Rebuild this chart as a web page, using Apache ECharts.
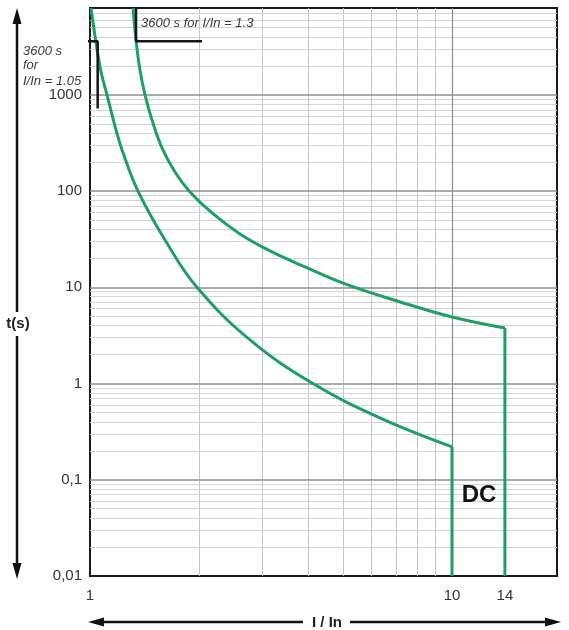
<!DOCTYPE html>
<html><head><meta charset="utf-8">
<script src="https://cdn.jsdelivr.net/npm/echarts@6/dist/echarts.min.js"></script>
<style>html,body{margin:0;padding:0;background:#fff}#c{width:569px;height:630px}</style>
</head><body><div id="c"></div>
<script>
// ---- data ----
const xTickValues = [1, 10, 14];
const xTickLabels = ['1', '10', '14'];
const yTickValues = [0.01, 0.1, 1, 10, 100, 1000];
const yTickLabels = ['0,01', '0,1', '1', '10', '100', '1000'];

// tripping curve starting at I/In = 1.05 region (I/In, t in s)
const curveLowI = [1.007, 1.066, 1.114, 1.18, 1.226, 1.357, 1.612, 1.975, 2.767, 4.13, 6.32, 10];
const curveLowT = [8000, 1950, 1000, 433, 268, 100, 31, 10, 2.84, 1, 0.44, 0.22];
// tripping curve starting at I/In = 1.3
const curveHighI = [1.315, 1.34, 1.374, 1.419, 1.483, 1.581, 1.717, 1.889, 2.173, 2.596, 3.143, 3.926, 5.064, 7.19, 10, 14];
const curveHighT = [8000, 3730, 1820, 1000, 550, 281, 158, 98, 59.3, 35.9, 23.9, 16.3, 10.85, 7.05, 4.92, 3.78];
// instantaneous drop
const dropLowI = [10, 10];
const dropLowT = [0.22, 0.01];
const dropHighI = [14, 14];
const dropHighT = [3.78, 0.01];
// 3600 s annotations
const ann105I = [0.66, 1.05, 1.05];
const ann105T = [3600, 3600, 720];
const ann13I = [1.34, 1.34, 2.04];
const ann13T = [8000, 3600, 3600];

// grid line values
const xMinorGrid = [2, 3, 4, 5, 6, 7, 8, 9];
const xMajorGrid = [10];
const yMajorGrid = [0.1, 1, 10, 100, 1000];
const yMinorMult = [2, 3, 4, 5, 6, 7, 8, 9];
const yDecades = [0.01, 0.1, 1, 10, 100, 1000];

const pairs = (a, b) => a.map((v, i) => [v, b[i]]);
const FONT = '"Liberation Sans", Arial, sans-serif';
const GREEN = '#1f9e66';

const gridLines = [];
xMinorGrid.forEach(v => gridLines.push({xAxis: v, lineStyle: {color: '#c4c4c4', width: 1, type: 'solid'}}));
yDecades.forEach(d => yMinorMult.forEach(m => {
  const v = d * m;
  if (v < 8000) gridLines.push({yAxis: v, lineStyle: {color: '#d4d4d4', width: 1, type: 'solid'}});
}));
xMajorGrid.forEach(v => gridLines.push({xAxis: v, lineStyle: {color: '#8c8c8c', width: 1.2, type: 'solid'}}));
yMajorGrid.forEach(v => gridLines.push({yAxis: v, lineStyle: {color: '#8f8f8f', width: 1.5, type: 'solid'}}));

const labelFor = (vals, labs, v) => {
  const i = vals.findIndex(t => Math.abs(Math.log10(t) - Math.log10(v)) < 1e-6);
  return i >= 0 ? labs[i] : '';
};

const chart = echarts.init(document.getElementById('c'), null, {renderer: 'canvas'});
chart.setOption({
  animation: false,
  grid: {left: 90, right: 12, top: 8, bottom: 54, show: true, borderColor: '#1a1a1a', borderWidth: 2, backgroundColor: 'transparent'},
  xAxis: {
    type: 'log', logBase: 10, min: 1, max: 19.5,
    axisLine: {show: false}, axisTick: {show: false}, splitLine: {show: false},
    axisLabel: {showMaxLabel: false, margin: 12, color: '#333', fontSize: 15, fontFamily: FONT,
      formatter: v => labelFor(xTickValues, xTickLabels, v)}
  },
  yAxis: {
    type: 'log', logBase: 10, min: 0.01, max: 8000,
    axisLine: {show: false}, axisTick: {show: false}, splitLine: {show: false},
    axisLabel: {showMaxLabel: false, margin: 8, color: '#333', fontSize: 15, fontFamily: FONT,
      formatter: v => labelFor(yTickValues, yTickLabels, v)}
  },
  series: [
    {type: 'line', name: 'grid', data: [], z: 1, silent: true,
     markLine: {silent: true, z: 1, symbol: ['none', 'none'], label: {show: false}, animation: false,
       lineStyle: {type: 'solid'}, data: gridLines}},
    {type: 'line', data: pairs(curveLowI, curveLowT), smooth: 0.4, showSymbol: false, z: 3,
     lineStyle: {color: GREEN, width: 3}},
    {type: 'line', data: pairs(curveHighI, curveHighT), smooth: 0.4, showSymbol: false, z: 3,
     lineStyle: {color: GREEN, width: 3}},
    {type: 'line', data: pairs(dropLowI, dropLowT), showSymbol: false, z: 3, lineStyle: {color: GREEN, width: 3}},
    {type: 'line', data: pairs(dropHighI, dropHighT), showSymbol: false, z: 3, lineStyle: {color: GREEN, width: 3},
     markPoint: {symbol: 'circle', symbolSize: 0, silent: true,
       label: {show: true, position: 'bottom', distance: 12, color: '#333', fontSize: 15, fontFamily: FONT, formatter: xTickLabels[2]},
       data: [{coord: [xTickValues[2], yTickValues[0]]}]}},
    {type: 'line', data: pairs(ann105I, ann105T), showSymbol: false, clip: false, z: 4,
     lineStyle: {color: '#151515', width: 2.5}},
    {type: 'line', data: pairs(ann13I, ann13T), showSymbol: false, clip: false, z: 4,
     lineStyle: {color: '#151515', width: 2.5}}
  ],
  graphic: [
    // y-axis double arrow
    {type: 'line', shape: {x1: 17, y1: 20, x2: 17, y2: 312}, style: {stroke: '#111', lineWidth: 2.5}},
    {type: 'line', shape: {x1: 17, y1: 336, x2: 17, y2: 566}, style: {stroke: '#111', lineWidth: 2.5}},
    {type: 'polygon', shape: {points: [[17, 8], [12.5, 24], [21.5, 24]]}, style: {fill: '#111'}},
    {type: 'polygon', shape: {points: [[17, 579], [12.5, 563], [21.5, 563]]}, style: {fill: '#111'}},
    {type: 'text', x: 18, y: 324, style: {text: 't(s)', font: 'bold 15px ' + FONT, fill: '#222', align: 'center', verticalAlign: 'middle'}},
    // x-axis double arrow
    {type: 'line', shape: {x1: 100, y1: 622, x2: 303, y2: 622}, style: {stroke: '#111', lineWidth: 2.5}},
    {type: 'line', shape: {x1: 350, y1: 622, x2: 548, y2: 622}, style: {stroke: '#111', lineWidth: 2.5}},
    {type: 'polygon', shape: {points: [[88, 622], [104, 617.5], [104, 626.5]]}, style: {fill: '#111'}},
    {type: 'polygon', shape: {points: [[561, 622], [545, 617.5], [545, 626.5]]}, style: {fill: '#111'}},
    {type: 'text', x: 327, y: 623, style: {text: 'I / In', font: 'bold 15px ' + FONT, fill: '#222', align: 'center', verticalAlign: 'middle'}},
    // annotations
    {type: 'text', x: 141, y: 23, z: 10, style: {text: '3600 s for I/In = 1.3', font: 'italic 13px ' + FONT, fill: '#3a3a3a', verticalAlign: 'middle'}},
    {type: 'text', x: 23, y: 51, z: 10, style: {text: '3600 s', font: 'italic 13px ' + FONT, fill: '#3a3a3a', verticalAlign: 'middle'}},
    {type: 'text', x: 23, y: 65, z: 10, style: {text: 'for', font: 'italic 13px ' + FONT, fill: '#3a3a3a', verticalAlign: 'middle'}},
    {type: 'text', x: 23, y: 81, z: 10, style: {text: 'I/In = 1.05', font: 'italic 13px ' + FONT, fill: '#3a3a3a', verticalAlign: 'middle'}},
    {type: 'text', x: 479, y: 495, z: 10, style: {text: 'DC', font: 'bold 24px ' + FONT, fill: '#111', align: 'center', verticalAlign: 'middle'}}
  ]
});
</script>
</body></html>
